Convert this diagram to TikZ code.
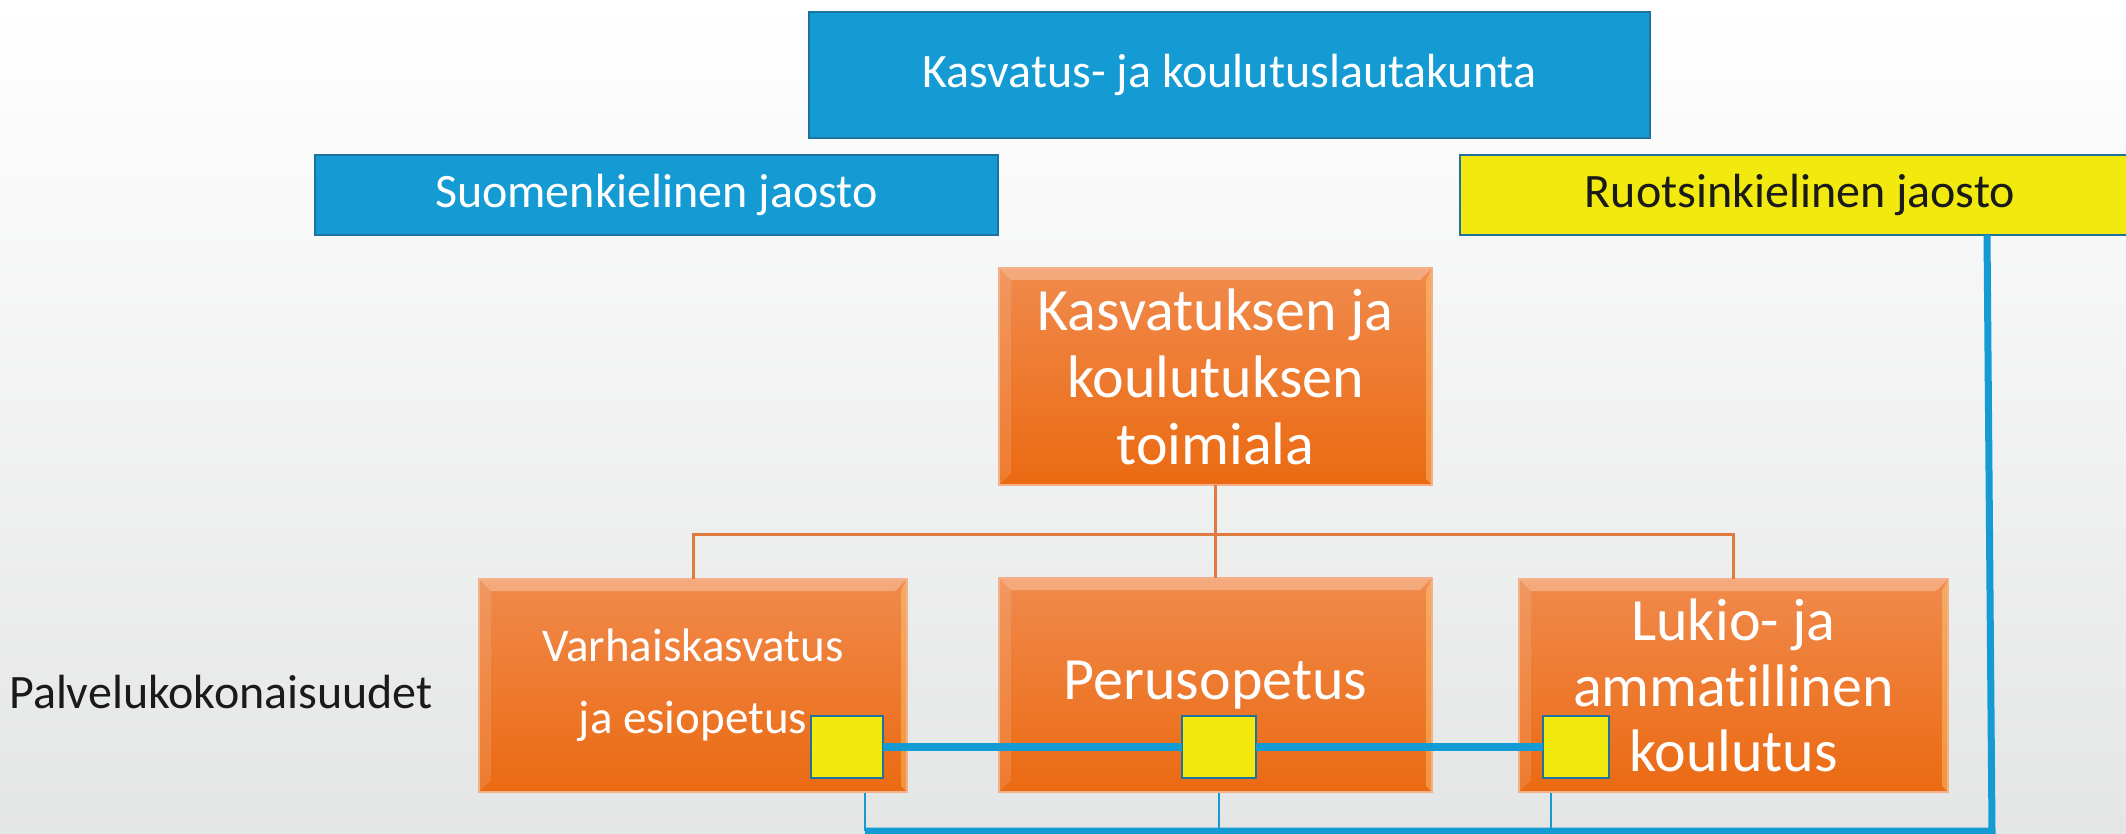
\documentclass[tikz,border=0pt]{standalone}
\usepackage{fontspec}
\setmainfont[Ligatures={NoCommon}]{Carlito}
\definecolor{jblue}{HTML}{159BD4}
\definecolor{jblueborder}{HTML}{1E72A0}
\definecolor{jyellow}{HTML}{F2E90E}
\definecolor{otop}{HTML}{F08A4C}
\definecolor{obot}{HTML}{EB6A12}
\definecolor{oborder}{HTML}{F6B089}
\definecolor{oline}{HTML}{E07A40}
\definecolor{lblue}{HTML}{149BD4}
\definecolor{bgmid}{HTML}{F9F9F9}
\definecolor{bgbot}{HTML}{E4E5E5}
\definecolor{dtext}{HTML}{1A1A1A}
\tikzset{
  bluebox/.style={draw=jblueborder, fill=jblue, line width=2pt, text=white,
    font=\fontsize{48}{56}\selectfont, inner sep=0pt, outer sep=0pt},
  yellowbox/.style={bluebox, fill=jyellow, text=dtext},
  bevel/.style={path picture={
    \fill[white,opacity=0.28] (path picture bounding box.north west) -- (path picture bounding box.north east)
      -- ([xshift=-12pt,yshift=-12pt]path picture bounding box.north east) -- ([xshift=12pt,yshift=-12pt]path picture bounding box.north west) -- cycle;
    \fill[white,opacity=0.12] (path picture bounding box.north west) -- ([xshift=12pt,yshift=-12pt]path picture bounding box.north west)
      -- ([xshift=12pt,yshift=12pt]path picture bounding box.south west) -- (path picture bounding box.south west) -- cycle;
    \fill[yellow!40!white,opacity=0.3] (path picture bounding box.north east) -- ([xshift=-6pt,yshift=-12pt]path picture bounding box.north east)
      -- ([xshift=-6pt,yshift=6pt]path picture bounding box.south east) -- (path picture bounding box.south east) -- cycle;
  }},
  orangebox/.style={draw=oborder, top color=otop, bottom color=obot, line width=1.5pt,
    text=white, align=center, inner sep=0pt, outer sep=0pt, bevel},
  ysq/.style={draw=jblueborder, fill=jyellow, line width=2.5pt, inner sep=0pt, outer sep=0pt},
  orgline/.style={draw=oline, line width=3pt},
  thickblue/.style={draw=lblue, line width=8pt},
  midblue/.style={draw=lblue, line width=7pt},
  thinblue/.style={draw=lblue, line width=1.8pt},
}
\begin{document}
\begin{tikzpicture}[x=1pt,y=-1pt]
\useasboundingbox (0,0) rectangle (2126,834);
\shade[top color=white, middle color=bgmid, bottom color=bgbot] (0,0) rectangle (2126,834);

% top level boxes
\node[bluebox, minimum width=841pt, minimum height=126pt] (lauta) at (1229.5,75) {Kasvatus- ja koulutuslautakunta};
\node[bluebox, minimum width=683pt, minimum height=80pt] (suomi) at (656.5,195) {Suomenkielinen jaosto};
\node[yellowbox, minimum width=680pt, minimum height=80pt] (ruotsi) at (1800,195) {Ruotsinkielinen jaosto};

% free ends of the thin lines on the bottom connector
\coordinate (bl) at (865,831);
\coordinate (bm) at (1219,831);
\coordinate (br) at (1551,831);
\coordinate (bend) at (1992,831);

\draw[thinblue] (865,760) -- (bl);
\draw[thinblue] (1219,760) -- (bm);
\draw[thinblue] (1551,760) -- (br);

% service area nodes
\node[orangebox, minimum width=433pt, minimum height=217pt,
  font=\fontsize{60}{67}\selectfont] (toim) at (1215.5,376.5)
  {Kasvatuksen ja\\koulutuksen\\toimiala};
\node[orangebox, minimum width=428pt, minimum height=213pt,
  font=\fontsize{47}{72}\selectfont] (varh) at (693,685.5)
  {Varhaiskasvatus\\ja esiopetus};
\node[orangebox, minimum width=433pt, minimum height=214pt,
  font=\fontsize{60}{66}\selectfont] (perus) at (1215.5,685)
  {Perusopetus};
\node[orangebox, minimum width=429pt, minimum height=213pt,
  font=\fontsize{60}{65.5}\selectfont] (lukio) at (1733.5,685.5)
  {Lukio- ja\\ammatillinen\\koulutus};

% org connectors
\coordinate (hm) at (1215.5,534);
\draw[orgline] (toim.south) -- (perus.north);
\draw[orgline] (varh.north) |- (hm) -| (lukio.north);

% yellow squares
\node[ysq, minimum width=72pt, minimum height=62pt] (sqL) at (847,747) {};
\node[ysq, minimum width=74pt, minimum height=62pt] (sqM) at (1219,747) {};
\node[ysq, minimum width=66pt, minimum height=62pt] (sqR) at (1576,747) {};

\draw[thickblue] (sqL.east) -- (sqM.west);
\draw[thickblue] (sqM.east) -- (sqR.west);

% bottom connector to Ruotsinkielinen jaosto
\draw[midblue, line join=miter] (bl) -- (bend) -- ([xshift=-5pt]ruotsi.south -| bend);

\node[text=dtext, font=\fontsize{48}{56}\selectfont, anchor=west, inner sep=0pt] (palv) at (9,692) {Palvelukokonaisuudet};
\end{tikzpicture}
\end{document}
